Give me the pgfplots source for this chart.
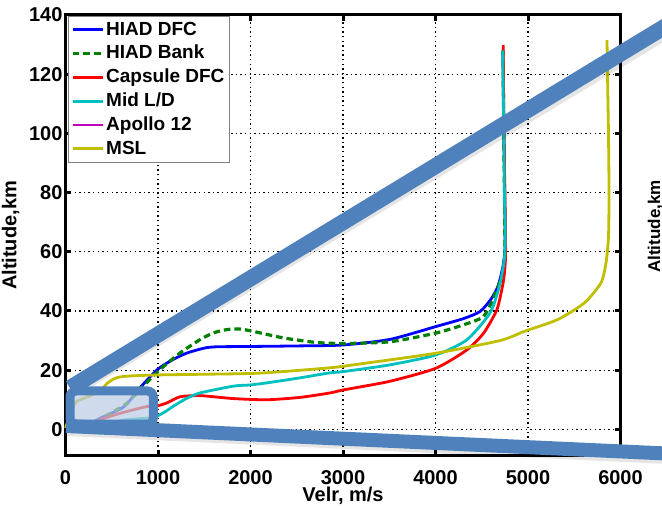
\documentclass[border=0pt]{standalone}
\usepackage{fontspec}
\setmainfont{Liberation Sans}
\usepackage{pgfplots}
\pgfplotsset{compat=1.18}
\definecolor{band}{HTML}{4F81BD}
\definecolor{boxfill}{RGB}{188,204,228}
\definecolor{mgreen}{rgb}{0,0.5,0}
\definecolor{mcyan}{rgb}{0,0.75,0.75}
\definecolor{mmag}{rgb}{0.75,0,0.75}
\definecolor{myel}{rgb}{0.75,0.75,0}
\begin{document}
\begin{tikzpicture}
\useasboundingbox (-32.75pt,-25pt) rectangle (298.25pt,228pt);
\begin{axis}[
  at={(0,0)}, anchor=south west,
  scale only axis, width=277.5pt, height=220.5pt,
  xmin=0, xmax=6000, ymin=-9, ymax=140,
  xtick={0,1000,2000,3000,4000,5000,6000},
  ytick={0,20,40,60,80,100,120,140},
  scaled x ticks=false, scaled y ticks=false,
  /pgf/number format/assume math mode=true,
  /pgf/number format/1000 sep={},
  grid=major,
  grid style={black, line width=0.6pt, dash pattern=on 0.7pt off 1.6pt},
  axis line style={black, line width=1.5pt},
  tick align=inside, major tick length=3pt,
  tick style={black, line width=1.5pt},
  xticklabel style={font=\bfseries\fontsize{10}{12}\selectfont, yshift=-3.5pt},
  yticklabel style={font=\bfseries\fontsize{10}{12}\selectfont, xshift=2pt},
  xlabel={Velr, m/s},
  xlabel style={font=\bfseries\fontsize{10}{12}\selectfont, at={(rel axis cs:0.5,-0.104)}, anchor=base},
  ylabel={Altitude,km},
  ylabel style={font=\bfseries\fontsize{10}{12}\selectfont, at={(rel axis cs:-0.0883,0.5)}, anchor=base, rotate=0},
  clip=false,
  legend style={at={(rel axis cs:0.0045,0.9977)}, anchor=north west,
    draw=gray, fill=white, inner sep=1.5pt, row sep=1.5pt,
    font=\bfseries\fontsize{9.5}{11}\selectfont,
    nodes={inner sep=1pt, text height=6.8pt, text depth=1.6pt}},
  legend cell align=left,
  legend image code/.code={\draw[line width=1.4pt,#1] (0pt,0pt) -- (15pt,0pt);},
]
\addplot[blue, line width=1.4pt, smooth, tension=0.4] coordinates {
(200,0) (340,3.2) (480,5.2) (643,7.9) (805,14.0) (989,20.1) (1151,23.4) (1314,25.8) (1508,27.5) (1638,27.9) (1995,28.0) (2535,28.2) (3000,28.5) (3508,30.4) (4000,34.7) (4300,37.4) (4481,39.8) (4600,44) (4676,48.4) (4730,55.2) (4752,62) (4748,80) (4740,100) (4733,115) (4730,128)};
\addlegendentry{HIAD DFC}
\addplot[mgreen, line width=1.6pt, dash pattern=on 3.3pt off 2pt, smooth, tension=0.4] coordinates {
(250,0) (373,3.3) (520,6) (667,8.9) (841,14.6) (1022,20.2) (1238,25.8) (1454,30.3) (1600,32.6) (1743,33.7) (1886,33.9) (2030,33.1) (2355,30.9) (2700,29.4) (3000,29.0) (3508,29.6) (4000,32.5) (4300,35.3) (4517,38.1) (4636,45) (4726,52.8) (4750,60) (4745,80) (4738,100) (4730,128)};
\addlegendentry{HIAD Bank}
\addplot[red, line width=1.4pt, smooth, tension=0.4] coordinates {
(250,0) (373,3.2) (600,5.5) (878,7.7) (986,7.9) (1094,8.9) (1238,11.0) (1454,11.4) (1814,10.4) (2175,10.0) (2535,10.8) (2859,12.3) (3000,13.3) (3500,16.2) (4000,20.6) (4337,26.8) (4520,32.5) (4662,40.3) (4722,48) (4746,53) (4758,60) (4750,80) (4740,100) (4732,129.8)};
\addlegendentry{Capsule DFC}
\addplot[mcyan, line width=1.4pt, smooth, tension=0.4] coordinates {
(450,1) (600,3) (800,3.6) (914,3.8) (986,4.4) (1080,6) (1165,7.8) (1300,10.3) (1454,12.3) (1814,14.6) (1995,15.0) (2175,15.7) (2535,17.4) (2859,19.1) (3000,19.5) (3508,21.8) (4000,25.1) (4337,30.2) (4589,39.3) (4690,48.3) (4744,57.3) (4755,65) (4745,80) (4738,100) (4727,128)};
\addlegendentry{Mid L/D}
\addlegendimage{mmag, line width=1.4pt}
\addlegendentry{Apollo 12}
\addplot[myel, line width=1.4pt, smooth, tension=0.4] coordinates {
(0,0.5) (40,4) (80,7.5) (121,9.4) (200,10.5) (300,11.8) (400,13.8) (445,15.4) (520,17.0) (589,17.7) (733,18.1) (1022,18.4) (1454,18.6) (2103,19.0) (2859,20.8) (3184,22.1) (4000,25.7) (4697,30.0) (4960,33.1) (5321,37.1) (5609,42.7) (5789,49.5) (5843,56.2) (5870,65) (5876,80) (5870,100) (5862,115) (5854,131.5)};
\addlegendentry{MSL}
\end{axis}
\begin{scope}[x=0.5pt, y=-0.5pt, shift={(-32.75pt,228pt)}]
  \draw[black, opacity=0.1, line width=8pt] (71,390) -- (668,30);
  \draw[black, opacity=0.1, line width=7pt] (67,429) -- (668,457);
  \draw[band, line width=4.5pt, rounded corners=3pt, fill=boxfill, fill opacity=0.72] (70,391) rectangle (153.3,424.2);
  \draw[band, line width=8pt] (70,388) -- (666,26);
  \draw[band, line width=7pt] (66,426) -- (666,453.5);
  \node[rotate=90, anchor=base, font=\bfseries\fontsize{8.5}{10}\selectfont, inner sep=0pt] at (660,226.5) {Altitude,km};
\end{scope}
\end{tikzpicture}
\end{document}
